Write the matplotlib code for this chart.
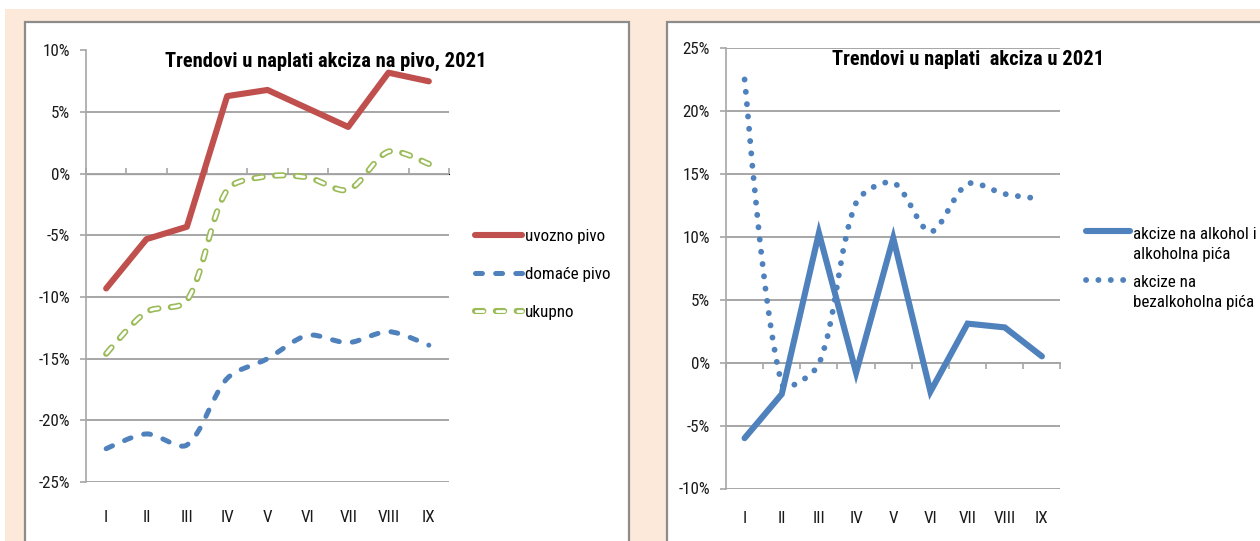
import numpy as np
import matplotlib
matplotlib.use("Agg")
import matplotlib.pyplot as plt
from matplotlib import font_manager
from matplotlib.path import Path
from matplotlib.patches import PathPatch, Rectangle
from matplotlib.lines import Line2D
from matplotlib.legend_handler import HandlerLine2D, HandlerTuple
from matplotlib.ticker import FuncFormatter

# uzak font (Calibri-like); sta god je instalirano
names = {f.name for f in font_manager.fontManager.ttflist}
family, stretch = 'Liberation Sans', 'normal'
for cand in ['Liberation Sans Narrow', 'Roboto Condensed', 'Open Sans Condensed',
             'Noto Sans Condensed', 'DejaVu Sans Condensed']:
    if cand in names:
        family = cand
        break
else:
    for f in font_manager.fontManager.ttflist:
        if f.name in ('Noto Sans', 'Open Sans', 'Roboto', 'DejaVu Sans') and \
                str(f.stretch) in ('condensed', 'semi-condensed', 'extra-condensed'):
            family, stretch = f.name, str(f.stretch)
            break

plt.rcParams['font.family'] = [family, 'Liberation Sans', 'DejaVu Sans']
plt.rcParams['font.stretch'] = stretch
plt.rcParams['lines.scale_dashes'] = False

# podaci
months = ['I', 'II', 'III', 'IV', 'V', 'VI', 'VII', 'VIII', 'IX']

uvozno = [-9.3, -5.3, -4.3, 6.3, 6.8, 5.3, 3.8, 8.2, 7.5]
domace = [-22.3, -21.1, -22.0, -16.6, -15.0, -13.1, -13.7, -12.8, -13.9]
ukupno = [-14.6, -11.2, -10.3, -1.3, -0.2, -0.3, -1.3, 1.8, 0.8]

alkohol = [-6.0, -2.5, 10.3, -0.8, 9.9, -2.3, 3.1, 2.8, 0.5]
bezalk = [22.5, -1.7, -0.1, 12.7, 14.3, 10.4, 14.2, 13.4, 13.0]

RED = '#C0504D'
BLUE = '#4F81BD'
GREEN = '#9BBB59'
GRID = '#A6A6A6'
PEACH = '#FDE9D9'

W, H = 1260, 541
fig = plt.figure(figsize=(W / 100, H / 100), dpi=100)
fig.patch.set_facecolor('white')
renderer = fig.canvas.get_renderer()


def fit_size(s, target_px, **kw):
    t = fig.text(0, 0, s, fontsize=10, **kw)
    w = t.get_window_extent(renderer).width
    t.remove()
    return 10 * target_px / w


FS = min(fit_size('uvozno pivo', 80), 13.5)
TS = min(fit_size('Trendovi u naplati akciza na pivo, 2021', 322, fontweight='bold'), 15.5)

# pozadina i okviri
fig.add_artist(Rectangle((5 / W, 0), 1, 1 - 9 / H, transform=fig.transFigure,
                         facecolor=PEACH, edgecolor='none', zorder=-10))
for x0, x1 in [(25, 629), (667, 1300)]:
    fig.add_artist(Rectangle((x0 / W, -0.1), (x1 - x0) / W, 1.1 - 22 / H,
                             transform=fig.transFigure, facecolor='white',
                             edgecolor='#8C8C8C', linewidth=1.6, zorder=-9))


def smooth_path(ax, xs, ys):
    # Excel-like smoothing: tangents weighted by segment length on screen
    pts = np.column_stack([xs, ys]).astype(float)
    scr = ax.transData.transform(pts)
    n = len(pts)
    d = np.hypot(*np.diff(scr, axis=0).T)
    verts = [tuple(pts[0])]
    codes = [Path.MOVETO]
    for i in range(n - 1):
        p0, p1, p2 = pts[max(i - 1, 0)], pts[i], pts[i + 1]
        p3 = pts[min(i + 2, n - 1)]
        dprev = d[i - 1] if i > 0 else d[i]
        dnext = d[i + 1] if i + 2 < n else d[i]
        t1 = (p2 - p0) * d[i] / (dprev + d[i]) / 3 * (0.9 if i > 0 else 0.5)
        t2 = (p3 - p1) * d[i] / (d[i] + dnext) / 3 * (0.9 if i + 2 < n else 0.5)
        verts += [tuple(p1 + t1), tuple(p2 - t2), tuple(p2)]
        codes += [Path.CURVE4] * 3
    return Path(verts, codes)


def setup_axes(rect, ylim, xpad):
    ax = fig.add_axes(rect)
    ax.set_facecolor('none')
    ax.set_xlim(-0.5, len(months) - 0.5)
    ax.set_ylim(*ylim)
    ax.set_yticks(np.arange(ylim[0], ylim[1] + 1, 5))
    ax.yaxis.set_major_formatter(FuncFormatter(lambda v, p: f"{v:.0f}%"))
    ax.grid(axis='y', color=GRID, linewidth=1.4)
    ax.set_axisbelow(True)
    for s in ['top', 'right', 'bottom']:
        ax.spines[s].set_visible(False)
    ax.spines['left'].set_color(GRID)
    ax.spines['left'].set_linewidth(1.2)
    ax.tick_params(axis='y', length=4.5, width=1.2, color=GRID, pad=7,
                   labelsize=FS, labelcolor='#1a1a1a')
    ax.set_xticks(range(len(months)), months)
    ax.tick_params(axis='x', length=0, pad=xpad, labelsize=FS, labelcolor='#1a1a1a')
    # os x na nuli s crticama izmedju kategorija
    frac = (0 - ylim[0]) / (ylim[1] - ylim[0])
    sec = ax.secondary_xaxis(frac)
    sec.set_xticks(np.arange(-0.5, len(months), 1.0))
    sec.set_xticklabels([])
    sec.tick_params(length=4.5, width=1.2, color=GRID, direction='out')
    sec.spines['bottom'].set_color(GRID)
    sec.spines['bottom'].set_linewidth(1.4)
    return ax


x = np.arange(len(months))

# ---- lijevi grafikon: pivo
ax1 = setup_axes([86 / W, 1 - 482 / H, (449 - 86) / W, (482 - 50.5) / H], (-25, 10), 20)
ax1.plot(x, uvozno, color=RED, linewidth=4.4, solid_capstyle='round',
         solid_joinstyle='round', zorder=5)
ax1.add_patch(PathPatch(smooth_path(ax1, x, domace), fill=False, edgecolor=BLUE,
                        linewidth=3.6, linestyle=(0, (5, 9.5)), capstyle='round', zorder=4))
ax1.add_patch(PathPatch(smooth_path(ax1, x, ukupno), fill=False, edgecolor=GREEN,
                        linewidth=4.4, linestyle=(0, (6, 9)), capstyle='round', zorder=4))
ax1.add_patch(PathPatch(smooth_path(ax1, x, ukupno), fill=False, edgecolor='white',
                        linewidth=2.0, linestyle=(14.5, (5.5, 9.5)), capstyle='round', zorder=4))

h_uv = Line2D([], [], color=RED, linewidth=4.4, solid_capstyle='round')
h_do = Line2D([], [], color=BLUE, linewidth=3.6, linestyle=(0, (5, 9.5)),
              dash_capstyle='round')
h_uk = (Line2D([], [], color=GREEN, linewidth=4.4, linestyle=(0, (6, 9)),
               dash_capstyle='round'),
        Line2D([], [], color='white', linewidth=2.0, linestyle=(14.5, (5.5, 9.5)),
               dash_capstyle='round'))
fig.legend([h_uv, h_do, h_uk], ['uvozno pivo', 'domaće pivo', 'ukupno'],
           loc='upper left', bbox_to_anchor=(475 / W, 1 - 229 / H),
           bbox_transform=fig.transFigure, frameon=False, fontsize=FS,
           borderpad=0, borderaxespad=0, handlelength=47 / (FS * 100 / 72),
           handletextpad=0.15, labelspacing=1.35,
           handler_map={tuple: HandlerTuple(ndivide=1, pad=0)})

fig.text(326 / W, 1 - 67 / H, 'Trendovi u naplati akciza na pivo, 2021',
         ha='center', va='baseline', fontsize=TS, fontweight='bold')

# ---- desni grafikon: akcize
ax2 = setup_axes([726 / W, 1 - 488.5 / H, (1060.5 - 726) / W, (488.5 - 48) / H], (-10, 25), 16)
ax2.plot(x, alkohol, color=BLUE, linewidth=4.4, solid_capstyle='round',
         solid_joinstyle='miter', zorder=5)
ax2.add_patch(PathPatch(smooth_path(ax2, x, bezalk), fill=False, edgecolor=BLUE,
                        linewidth=4.2, linestyle=(0, (0.1, 8.8)), capstyle='round', zorder=4))


class TopLine(HandlerLine2D):
    def create_artists(self, *args, **kwargs):
        arts = super().create_artists(*args, **kwargs)
        for a in arts:
            a.set_ydata(np.asarray(a.get_ydata()) + 9.5)
        return arts


h_al = Line2D([], [], color=BLUE, linewidth=4.4, solid_capstyle='round')
h_bz = Line2D([], [], color=BLUE, linewidth=4.2, linestyle=(0, (0.1, 8.8)),
              dash_capstyle='round')
leg2 = fig.legend([h_al, h_bz], ['akcize na alkohol i\nalkoholna pića',
                                 'akcize na\nbezalkoholna pića'],
                  loc='upper left', bbox_to_anchor=(1086 / W, 1 - 227 / H),
                  bbox_transform=fig.transFigure, frameon=False, fontsize=FS,
                  borderpad=0, borderaxespad=0, handlelength=44 / (FS * 100 / 72),
                  handletextpad=0.15, labelspacing=0.8,
                  handler_map={Line2D: TopLine()})
for t in leg2.get_texts():
    t.set_linespacing(1.4)

fig.text(968 / W, 1 - 65 / H, 'Trendovi u naplati  akciza u 2021',
         ha='center', va='baseline', fontsize=TS, fontweight='bold')

fig.savefig('out.png', dpi=100)
